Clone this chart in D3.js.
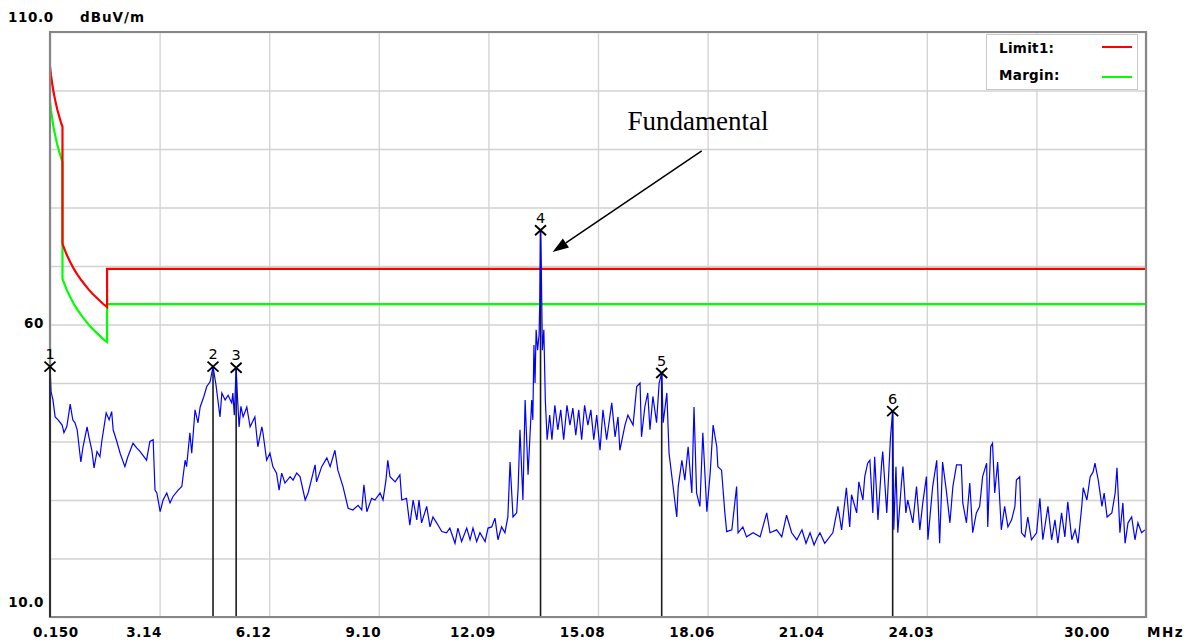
<!DOCTYPE html>
<html><head><meta charset="utf-8">
<script src="https://cdn.jsdelivr.net/npm/d3@7/dist/d3.min.js"></script>
<style>
html,body{margin:0;padding:0;background:#fff;}
svg{display:block;}
.lbl{font-family:"DejaVu Sans",sans-serif;font-weight:bold;font-size:13.5px;letter-spacing:0.6px;fill:#000;}
</style></head>
<body>
<svg id="chart" width="1192" height="644"></svg>
<script>
// ---------------- data ----------------
const xDomain = [0.15, 30];
const yDomain = [10, 110];
const xTickValues = [0.15, 3.135, 6.12, 9.105, 12.09, 15.075, 18.06, 21.045, 24.03, 27.015, 30];
const xTickLabels = ["0.150", "3.14", "6.12", "9.10", "12.09", "15.08", "18.06", "21.04", "24.03", "", "30.00"];
const yGridValues = [10, 20, 30, 40, 50, 60, 70, 80, 90, 100, 110];
const yTickValues = [110, 60, 10];
const yTickLabels = ["110.0", "60", "10.0"];
const xUnit = "MHz";
const yUnit = "dBuV/m";

// Limit1 (FCC 15.209 extrapolated to 3 m)
const limit1 = [[0.15,104.1],[0.18,102.5],[0.21,101.2],[0.25,99.6],[0.30,98.1],[0.35,96.7],[0.40,95.6],[0.45,94.5],[0.49,93.8],
  [0.49,73.8],[0.6,72.0],[0.7,70.7],[0.8,69.5],[0.9,68.5],[1.0,67.6],[1.1,66.8],[1.2,66.0],[1.3,65.3],[1.4,64.7],[1.5,64.1],[1.6,63.5],[1.705,63.0],
  [1.705,69.5],[30,69.5]];
const margin = [[0.15,98.1],[0.18,96.5],[0.21,95.2],[0.25,93.6],[0.30,92.1],[0.35,90.7],[0.40,89.6],[0.45,88.5],[0.49,87.8],
  [0.49,67.8],[0.6,66.0],[0.7,64.7],[0.8,63.5],[0.9,62.5],[1.0,61.6],[1.1,60.8],[1.2,60.0],[1.3,59.3],[1.4,58.7],[1.5,58.1],[1.6,57.5],[1.705,57.0],
  [1.705,63.5],[30,63.5]];

// measured emission trace [MHz, dBuV/m]
const emission = [
 [0.15,52.8],[0.18,48.5],[0.23,47.1],[0.29,44.2],[0.37,43.7],[0.48,42.8],[0.53,41.5],[0.61,42.6],[0.70,46.4],[0.77,43.7],[0.83,43.2],[0.89,42.0],[0.99,36.5],[1.05,39.1],[1.16,42.5],[1.21,40.8],[1.29,38.5],[1.35,35.5],[1.43,38.3],[1.51,37.4],[1.56,40.0],[1.68,44.9],[1.76,43.7],[1.83,45.1],[1.87,42.0],[1.97,40.0],[2.06,38.0],[2.19,35.7],[2.27,37.4],[2.41,39.7],[2.51,38.9],[2.60,38.3],[2.78,36.8],[2.87,40.0],[2.96,40.3],[3.01,31.7],[3.06,31.2],[3.15,28.0],[3.23,30.0],[3.33,31.2],[3.42,29.5],[3.50,30.6],[3.64,31.7],[3.74,32.3],[3.83,36.8],[3.87,35.7],[3.96,41.5],[4.01,38.0],[4.10,45.4],[4.18,43.2],[4.24,45.9],[4.34,47.7],[4.42,49.4],[4.51,50.2],[4.59,52.8],[4.67,49.7],[4.78,44.2],[4.83,48.3],[4.92,47.1],[5.00,47.9],[5.10,46.6],[5.13,48.3],[5.17,44.5],[5.22,52.6],[5.26,47.1],[5.30,42.5],[5.35,46.0],[5.41,44.2],[5.51,45.9],[5.60,42.5],[5.73,44.2],[5.81,39.1],[5.92,42.5],[5.95,41.5],[6.05,36.8],[6.14,38.0],[6.22,35.7],[6.32,34.6],[6.39,31.7],[6.46,34.6],[6.55,32.9],[6.69,34.0],[6.77,33.4],[6.87,34.6],[6.96,34.0],
 [7.10,30.0],[7.18,31.2],[7.37,36.0],[7.41,33.1],[7.55,35.7],[7.69,37.2],[7.78,35.7],[7.91,38.5],[7.99,35.1],[8.13,32.3],[8.27,28.6],[8.40,28.3],[8.54,29.1],[8.64,28.3],[8.70,32.6],[8.78,28.0],[8.91,30.3],[9.00,30.0],[9.14,31.2],[9.22,30.0],[9.30,33.4],[9.35,36.8],[9.41,34.0],[9.55,33.1],[9.68,34.3],[9.73,30.0],[9.86,30.3],[9.95,25.7],[10.04,30.0],[10.14,26.6],[10.20,30.0],[10.27,26.1],[10.41,28.9],[10.50,25.4],[10.58,27.1],[10.68,26.1],[10.82,24.6],[10.95,24.4],[11.04,25.2],[11.18,22.6],[11.26,25.2],[11.36,22.9],[11.50,25.2],[11.59,23.2],[11.67,25.2],[11.77,22.9],[11.86,24.4],[12.00,22.9],[12.08,25.2],[12.18,25.4],[12.27,26.9],[12.35,23.2],[12.45,25.4],[12.54,24.4],[12.62,27.1],[12.68,36.5],[12.76,27.1],[12.86,27.8],[12.90,32.1],[12.95,42.0],[13.03,30.0],[13.09,47.1],[13.17,34.3],[13.27,47.1],[13.30,43.7],[13.33,56.5],[13.36,50.0],[13.39,59.1],[13.43,55.6],[13.47,58.2],[13.49,64.0],[13.51,76.1],[13.53,70.2],[13.56,55.6],[13.60,59.1],[13.64,47.1],[13.69,40.3],
 [13.76,44.5],[13.82,40.3],[13.90,46.2],[13.98,42.0],[14.06,45.4],[14.14,40.3],[14.23,46.2],[14.31,42.8],[14.39,45.7],[14.47,41.1],[14.55,45.4],[14.63,40.3],[14.71,46.2],[14.80,42.8],[14.88,45.4],[14.96,40.3],[15.04,44.5],
 [15.13,38.5],[15.21,45.4],[15.31,40.3],[15.45,46.6],[15.54,40.8],[15.62,44.2],[15.67,38.5],[15.81,42.8],[15.89,44.5],[16.03,42.8],[16.13,49.4],[16.22,50.0],[16.26,40.8],[16.35,45.9],[16.43,48.3],[16.49,42.0],[16.57,47.7],[16.67,43.2],[16.74,50.0],[16.81,51.7],[16.85,43.2],[16.95,48.3],[17.01,38.0],[17.12,32.3],[17.22,27.1],[17.26,32.3],[17.36,36.8],[17.44,33.4],[17.53,39.1],[17.63,31.2],[17.69,45.9],[17.76,31.2],[17.85,28.9],[17.93,41.5],[18.04,28.0],[18.13,34.6],[18.21,42.8],[18.31,39.1],[18.34,35.7],[18.44,35.1],[18.53,27.8],[18.58,24.6],[18.72,24.9],[18.85,32.3],[18.89,24.4],[19.02,25.4],[19.12,23.7],[19.30,24.4],[19.49,23.7],[19.67,27.8],[19.76,24.4],[19.94,24.9],[20.08,23.7],[20.21,27.4],[20.35,24.4],
 [20.49,23.2],[20.63,24.9],[20.74,22.6],[20.85,24.4],[20.96,22.3],[21.04,23.5],
 [21.12,24.4],[21.25,22.6],[21.47,24.4],[21.61,28.9],[21.71,24.9],[21.84,32.1],[21.93,25.4],[21.98,30.9],[22.12,27.8],[22.18,33.1],[22.29,30.0],[22.34,34.0],[22.42,36.3],[22.48,36.8],[22.56,27.8],[22.61,37.4],[22.70,26.6],[22.80,36.3],[22.83,38.3],[22.94,27.8],[23.04,40.6],[23.10,45.2],[23.13,24.9],[23.19,35.7],[23.24,24.4],[23.34,32.9],[23.38,35.7],[23.46,27.8],[23.51,30.0],[23.65,26.1],[23.75,32.3],[23.84,24.9],[23.92,29.5],[24.02,34.0],[24.06,23.2],[24.19,32.3],[24.30,36.8],[24.38,22.6],[24.46,36.5],[24.56,31.7],[24.66,26.1],[24.74,32.3],[24.84,36.0],[24.97,36.0],[25.01,29.5],[25.11,26.1],[25.20,32.9],[25.28,24.4],[25.38,27.8],[25.47,28.9],[25.55,34.0],[25.66,36.3],[25.69,25.4],[25.77,39.1],[25.82,39.7],[25.88,31.2],[25.96,36.5],[26.06,24.9],[26.15,28.9],[26.24,25.4],[26.34,26.6],[26.43,28.9],[26.47,33.4],[26.56,34.0],[26.61,24.4],[26.70,23.7],[26.78,27.1],[26.88,23.2],[27.02,24.4],[27.11,30.3],[27.19,23.2],[27.33,28.9],[27.43,23.2],[27.52,26.6],[27.60,22.6],[27.70,27.8],[27.79,23.7],[27.87,29.7],[27.98,23.2],[28.07,24.9],[28.15,22.6],[28.25,28.9],[28.29,32.1],[28.39,30.0],[28.48,34.0],[28.56,34.8],[28.61,36.3],[28.70,33.4],[28.80,28.9],[28.86,31.2],[28.94,27.1],[29.07,27.8],[29.16,31.2],[29.21,35.5],[29.29,24.4],[29.37,29.5],[29.43,22.6],[29.51,26.1],[29.61,27.1],[29.70,23.2],[29.78,26.1],[29.88,24.4],[29.97,24.9]
];

// markers
const markerFreq  = [0.15, 4.59, 5.22, 13.51, 16.81, 23.10];
const markerLevel = [52.8, 52.8, 52.6, 76.1, 51.7, 45.2];
const markerNames = ["1", "2", "3", "4", "5", "6"];

// legend & annotation
const legendNames = ["Limit1:", "Margin:"];
const legendColors = ["#ff0000", "#00ff00"];
const annotationText = "Fundamental";
const annotationTextAt = [15.88, 93.3];
const annotationFrom = [17.90, 89.7];
const annotationTo = [13.84, 72.4];

// ---------------- drawing ----------------
const svg = d3.select("#chart");
const L = 50, T = 32, R = 1146, B = 617;
const x = d3.scaleLinear().domain(xDomain).range([L, R]);
const y = d3.scaleLinear().domain(yDomain).range([B, T]);

// grid
const grid = svg.append("g");
grid.append("g").attr("transform", `translate(0,${B})`)
  .call(d3.axisBottom(x).tickValues(xTickValues).tickSize(-(B - T)).tickFormat(""))
  .call(g => g.select(".domain").remove())
  .call(g => g.selectAll("line").attr("stroke", "#d2d2d2").attr("stroke-width", 1.3));
grid.append("g").attr("transform", `translate(${L},0)`)
  .call(d3.axisLeft(y).tickValues(yGridValues).tickSize(-(R - L)).tickFormat(""))
  .call(g => g.select(".domain").remove())
  .call(g => g.selectAll("line").attr("stroke", "#d2d2d2").attr("stroke-width", 1.3));

// legend box (covers grid)
const lg = svg.append("g");
lg.append("rect").attr("x", 986.5).attr("y", 34.5).attr("width", 151).attr("height", 55)
  .attr("fill", "#fff").attr("stroke", "#c8c8c8").attr("stroke-width", 1);
legendNames.forEach((n, i) => {
  lg.append("text").attr("class", "lbl").attr("x", 999).attr("y", 53 + i * 27).style("letter-spacing", "0.3px").text(n);
  lg.append("line").attr("x1", 1102).attr("x2", 1132).attr("y1", 47 + i * 30).attr("y2", 47 + i * 30)
    .attr("stroke", legendColors[i]).attr("stroke-width", 2);
});

// limit lines
const line = d3.line().x(d => x(d[0])).y(d => y(d[1]));
svg.append("path").datum(margin).attr("d", line).attr("fill", "none").attr("stroke", "#00ff00").attr("stroke-width", 2.2);
svg.append("path").datum(limit1).attr("d", line).attr("fill", "none").attr("stroke", "#ff0000").attr("stroke-width", 2.2);

// marker vertical lines
markerFreq.forEach((f, i) => {
  svg.append("line").attr("x1", x(f)).attr("x2", x(f)).attr("y1", y(markerLevel[i])).attr("y2", B)
    .attr("stroke", "#1a1a1a").attr("stroke-width", 1.6);
});

// emission trace
svg.append("path").datum(emission).attr("d", line).attr("fill", "none")
  .attr("stroke", "#0000ff").attr("stroke-width", 1.2).attr("stroke-linejoin", "miter");

// border
svg.append("path").attr("d", `M${L},${T}H${R}V${B}H${L}Z`).attr("fill", "none").attr("stroke", "#868686").attr("stroke-width", 2.2);
// marker 1 line over border
svg.append("line").attr("x1", x(markerFreq[0])).attr("x2", x(markerFreq[0])).attr("y1", y(markerLevel[0])).attr("y2", B)
  .attr("stroke", "#1a1a1a").attr("stroke-width", 1.6);

// marker symbols
markerFreq.forEach((f, i) => {
  const cx = x(f), cy = y(markerLevel[i]);
  svg.append("path").attr("d", `M${cx-5.5},${cy-5}L${cx+5.5},${cy+5}M${cx-5.5},${cy+5}L${cx+5.5},${cy-5}`)
    .attr("stroke", "#000").attr("stroke-width", 1.9).attr("fill", "none");
  svg.append("text").attr("x", cx).attr("y", cy - 7.5).attr("text-anchor", "middle")
    .style("font-family", "'DejaVu Sans',sans-serif").style("font-size", "14.5px").attr("fill", "#000")
    .text(markerNames[i]);
});

// x tick labels
xTickValues.forEach((v, i) => {
  const t = xTickLabels[i];
  if (!t) return;
  const last = i === xTickValues.length - 1;
  let tx = x(v) - 15.5, anchor = "middle";
  if (i === 0) { tx = x(v) - 17; anchor = "start"; }
  if (last) { tx = x(v) - 36; anchor = "end"; }
  svg.append("text").attr("class", "lbl").attr("x", tx).attr("y", 637).attr("text-anchor", anchor).text(t);
});
svg.append("text").attr("class", "lbl").attr("x", R + 1).attr("y", 637).style("letter-spacing", "1.5px").text(xUnit);

// y tick labels
yTickValues.forEach((v, i) => {
  let ty = y(v) + 3;
  let tx = 44, anchor = "end";
  if (i === 0) { ty = 22; tx = 8; anchor = "start"; }
  else if (v === yDomain[0]) { ty = y(v) - 10; }
  svg.append("text").attr("class", "lbl").attr("x", tx).attr("y", ty).attr("text-anchor", anchor).text(yTickLabels[i]);
});
svg.append("text").attr("class", "lbl").attr("x", 80).attr("y", 22).style("letter-spacing", "1px").text(yUnit);

// annotation
svg.append("text").attr("x", x(annotationTextAt[0])).attr("y", y(annotationTextAt[1]))
  .style("font-family", "'Liberation Serif','Times New Roman',serif").style("font-size", "27px").attr("fill", "#000")
  .text(annotationText);
const ax1 = x(annotationFrom[0]), ay1 = y(annotationFrom[1]), ax2 = x(annotationTo[0]), ay2 = y(annotationTo[1]);
const ang = Math.atan2(ay2 - ay1, ax2 - ax1);
const hl = 16, hw = 5.5;
const bx = ax2 - hl * Math.cos(ang), by = ay2 - hl * Math.sin(ang);
svg.append("line").attr("x1", ax1).attr("y1", ay1).attr("x2", bx).attr("y2", by).attr("stroke", "#000").attr("stroke-width", 1.5);
svg.append("path").attr("d", `M${ax2},${ay2}L${bx - hw * Math.sin(ang)},${by + hw * Math.cos(ang)}L${bx + hw * Math.sin(ang)},${by - hw * Math.cos(ang)}Z`)
  .attr("fill", "#000");
</script>
</body></html>
